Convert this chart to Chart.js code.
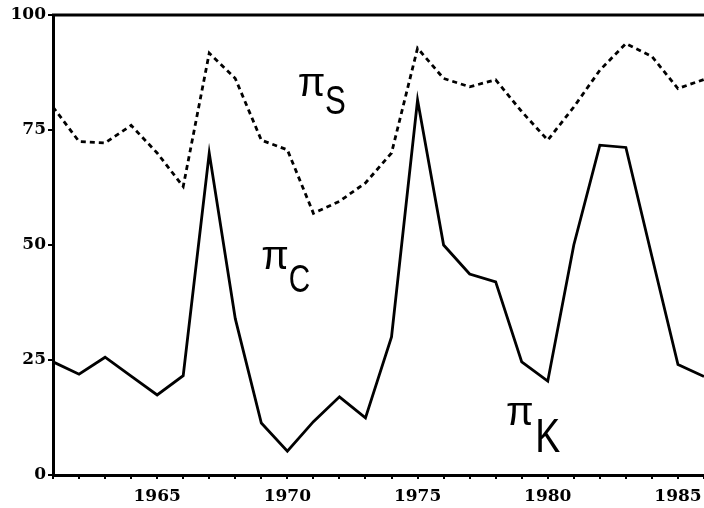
<!DOCTYPE html>
<html>
<head>
<meta charset="utf-8">
<script src="https://cdn.jsdelivr.net/npm/chart.js@4.4.0/dist/chart.umd.min.js"></script>
<style>
html,body{margin:0;padding:0;background:#fff;}
#wrap{width:704px;height:508px;position:relative;}
</style>
</head>
<body>
<div id="wrap"><canvas id="c" width="704" height="508"></canvas></div>
<script>
const years = [1961,1962,1963,1964,1965,1966,1967,1968,1969,1970,1971,1972,1973,1974,1975,1976,1977,1978,1979,1980,1981,1982,1983,1984,1985,1986];
const piS = [80,72.5,72.2,76,70,62.7,91.7,86.2,72.8,70.7,56.9,59.5,63.5,70,92.8,86.2,84.4,85.9,79,72.8,80,88,93.8,91,84,86];
const piC = [24.6,21.9,25.6,21.5,17.4,21.6,70,34,11.3,5.2,11.6,17,12.4,30,81.5,50,43.7,42,24.6,20.4,50,71.7,71.2,47.5,24,21.4];
const yTicks = [0,25,50,75,100];
const xLabelYears = [1965,1970,1975,1980,1985];

const textLabels = [
  {main:'π', sub:'S', x:1970.4, y:82.5, subDx:1.05, subDy:-4.0, subSize:40},
  {main:'π', sub:'C', x:1969.0, y:44.8, subDx:1.05, subDy:-5.0, subSize:38},
  {main:'π', sub:'K', x:1978.4, y:10.9, subDx:1.12, subDy:-6.0, subSize:48}
];

const labelPlugin = {
  id:'labels',
  afterDatasetsDraw(chart){
    const {ctx, scales:{x,y}, chartArea} = chart;
    ctx.save();
    ctx.fillStyle='#000';
    ctx.textBaseline='alphabetic';
    ctx.textAlign='left';
    textLabels.forEach(l=>{
      ctx.font='40px "Liberation Sans"';
      ctx.fillText(l.main, x.getPixelForValue(l.x), y.getPixelForValue(l.y));
      ctx.save();
      ctx.translate(x.getPixelForValue(l.x+l.subDx), y.getPixelForValue(l.y+l.subDy));
      ctx.scale(0.78, 1);
      ctx.font=l.subSize+'px "Liberation Sans"';
      ctx.fillText(l.sub, 0, 0);
      ctx.restore();
    });
    ctx.strokeStyle='#000';
    ctx.lineWidth=3;
    ctx.beginPath();
    ctx.moveTo(chartArea.left-1, chartArea.top);
    ctx.lineTo(chartArea.right, chartArea.top);
    ctx.stroke();
    ctx.restore();
  }
};

new Chart(document.getElementById('c'), {
  type:'line',
  data:{
    labels: years,
    datasets:[
      {label:'piS', data: years.map((yr,i)=>({x:yr,y:piS[i]})), borderColor:'#000', borderWidth:2.8, borderDash:[5,4], pointRadius:0, tension:0, fill:false},
      {label:'piC', data: years.map((yr,i)=>({x:yr,y:piC[i]})), borderColor:'#000', borderWidth:2.8, pointRadius:0, tension:0, fill:false}
    ]
  },
  options:{
    responsive:false,
    animation:false,
    devicePixelRatio:1,
    layout:{padding:{top:15,right:0,left:0,bottom:0}},
    plugins:{legend:{display:false}, tooltip:{enabled:false}},
    scales:{
      x:{
        type:'linear', min:1961, max:1986,
        afterFit(s){ s.height=33; s.paddingRight=0; s.paddingLeft=0; },
        border:{display:true, color:'#000', width:3},
        grid:{display:true, drawOnChartArea:false, drawTicks:true, tickLength:4, color:'#000', lineWidth:2},
        ticks:{stepSize:1, autoSkip:false, maxRotation:0, padding:7, color:'#000',
          font:{family:'"DejaVu Serif"', weight:'bold', size:17},
          callback:(v)=> xLabelYears.includes(v) ? String(v) : ''}
      },
      y:{
        min:0, max:100,
        afterFit(s){ s.width=53; s.paddingTop=0; s.paddingBottom=0; },
        afterBuildTicks(s){ s.ticks = yTicks.map(v=>({value:v})); },
        border:{display:true, color:'#000', width:3},
        grid:{display:true, drawOnChartArea:false, drawTicks:true, tickLength:5, color:'#000', lineWidth:2},
        ticks:{padding:2, color:'#000', font:{family:'"DejaVu Serif"', weight:'bold', size:17}}
      }
    }
  },
  plugins:[labelPlugin]
});
</script>
</body>
</html>
